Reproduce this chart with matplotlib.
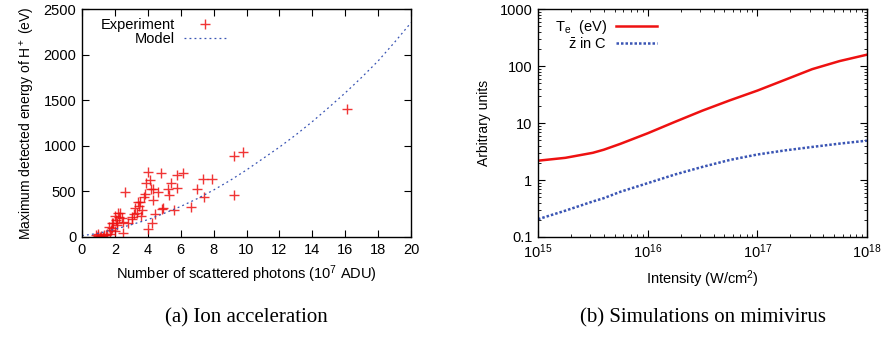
import matplotlib
matplotlib.use("Agg")
import matplotlib.pyplot as plt
from matplotlib.ticker import MultipleLocator, LogLocator, NullFormatter

plt.rcParams['font.family'] = ['Liberation Sans', 'DejaVu Sans']
plt.rcParams['mathtext.fontset'] = 'custom'
plt.rcParams['mathtext.rm'] = 'Liberation Sans'
plt.rcParams['mathtext.it'] = 'Liberation Sans:italic'

# ---- Panel (a) data ----
exp_x = [16.1, 9.78, 9.27, 9.21, 7.91, 7.34, 6.97, 7.42, 6.63, 6.16, 5.75, 5.75, 5.41,
         5.2, 5.26, 5.6, 4.78, 4.65, 4.04, 4.15, 3.92, 4.29, 4.19, 4.31, 3.86, 3.76,
         4.45, 4.92, 4.86, 4.23, 4.02, 2.64, 3.5, 3.46, 3.37, 3.19, 3.56, 3.64, 3.05,
         2.8, 2.48, 2.32, 2.26, 1.99, 2.05, 2.13, 1.91, 1.85, 1.67, 1.75, 2.01, 2.52,
         1.36, 1.14, 0.96, 0.83, 1.54, 1.71, 0.9, 1.1, 1.3, 1.0, 1.44, 1.81, 2.21,
         2.42, 3.23, 3.43, 3.03, 2.11]
exp_y = [1400, 937, 890, 459, 632, 632, 526, 434, 331, 706, 684, 540, 595,
         526, 459, 294, 706, 489, 713, 625, 596, 522, 522, 404, 474, 441,
         257, 323, 312, 154, 88, 489, 379, 338, 268, 257, 228, 294, 202,
         154, 169, 265, 220, 228, 184, 154, 154, 103, 110, 73, 66, 44,
         18, 7, 7, 18, 37, 37, 3, 3, 3, 30, 22, 150, 260,
         205, 315, 387, 223, 132]

model_x = [0, 1, 2, 3, 4, 5, 6, 7, 8, 9, 10, 11, 12, 13, 14, 15, 16, 17, 18, 19, 20]
model_y = [15, 40, 85, 135, 190, 260, 335, 420, 515, 620, 735, 860, 985, 1120,
           1265, 1420, 1580, 1750, 1930, 2135, 2350]

# ---- Panel (b) data ----
intensity = [1e15, 10**15.25, 10**15.5, 10**15.6, 10**15.75, 1e16, 10**16.25, 10**16.5,
             10**16.75, 1e17, 10**17.25, 10**17.5, 10**17.75, 1e18]
te_ev = [2.18, 2.45, 3.0, 3.4, 4.3, 6.6, 10.5, 16.5, 25, 37, 57, 88, 122, 158]
zbar = [0.205, 0.29, 0.42, 0.48, 0.62, 0.88, 1.25, 1.70, 2.25, 2.8, 3.3, 3.8, 4.35, 4.9]

W, H = 886, 341
fig = plt.figure(figsize=(W/100, H/100), dpi=100)

def box(l, t, r, b):
    return [l/W, 1-b/H, (r-l)/W, (b-t)/H]

FS = 10.5
red = '#ee1111'
blue = '#3a55b4'

# Panel (a)
ax1 = fig.add_axes(box(82, 9, 411, 237))
ax1.plot(exp_x, exp_y, linestyle='none', marker='+', color=red, ms=7, mew=1.0,
         alpha=0.85, label='Experiment')
ax1.plot(model_x, model_y, linestyle=(0, (1.5, 2.5)), color=blue, lw=0.9, label='Model')
ax1.set_xlim(0, 20)
ax1.set_ylim(0, 2500)
ax1.xaxis.set_major_locator(MultipleLocator(2))
ax1.yaxis.set_major_locator(MultipleLocator(500))
ax1.set_xlabel('Number of scattered photons (10$^7$ ADU)', fontsize=FS, labelpad=5)
ax1.set_ylabel('Maximum detected energy of H$^+$ (eV)', fontsize=10, labelpad=5)
leg1 = ax1.legend(loc='upper left', bbox_to_anchor=(0.03, 1.0), frameon=False,
                  markerfirst=False, fontsize=FS, handlelength=2.9,
                  borderaxespad=0.2, labelspacing=0.0, handletextpad=0.6)
for t in leg1.get_texts():
    t.set_ha('right')

# Panel (b)
ax2 = fig.add_axes(box(538, 9, 867, 237))
ax2.plot(intensity, te_ev, color=red, lw=1.8, label='T$_\\mathrm{e}$  (eV)')
ax2.plot(intensity, zbar, color=blue, lw=1.8, linestyle=(0, (1, 0.8)),
         label='$\\bar{\\mathrm{z}}$ in C')
ax2.set_xscale('log')
ax2.set_yscale('log')
ax2.set_xlim(1e15, 1e18)
ax2.set_ylim(0.1, 1000)
ax2.set_yticks([0.1, 1, 10, 100, 1000])
ax2.set_yticklabels(['0.1', '1', '10', '100', '1000'])
ax2.xaxis.set_major_locator(LogLocator(base=10, numticks=10))
ax2.xaxis.set_minor_locator(LogLocator(base=10, subs=range(2, 10), numticks=20))
ax2.yaxis.set_minor_locator(LogLocator(base=10, subs=range(2, 10), numticks=20))
ax2.xaxis.set_minor_formatter(NullFormatter())
ax2.yaxis.set_minor_formatter(NullFormatter())
ax2.set_xlabel('Intensity (W/cm$^2$)', fontsize=FS, labelpad=5)
ax2.set_ylabel('Arbitrary units', fontsize=10, labelpad=6)
leg2 = ax2.legend(loc='upper left', bbox_to_anchor=(0.025, 1.0), frameon=False,
                  markerfirst=False, fontsize=FS, handlelength=2.8,
                  borderaxespad=0.2, labelspacing=0.0, handletextpad=0.6)

for ax in (ax1, ax2):
    ax.tick_params(which='major', direction='in', top=True, right=True,
                   length=5, width=0.8, labelsize=FS, pad=4)
    ax.tick_params(which='minor', direction='in', top=True, right=True,
                   length=2.5, width=0.6)
    for s in ax.spines.values():
        s.set_linewidth(1.0)

fig.text(0.5*(82+411)/W, 1-318/H, '(a) Ion acceleration', ha='center', va='center',
         fontsize=15, family='Liberation Serif')
fig.text(0.5*(538+867)/W, 1-318/H, '(b) Simulations on mimivirus', ha='center', va='center',
         fontsize=15, family='Liberation Serif')

fig.savefig('out.png', dpi=100)
